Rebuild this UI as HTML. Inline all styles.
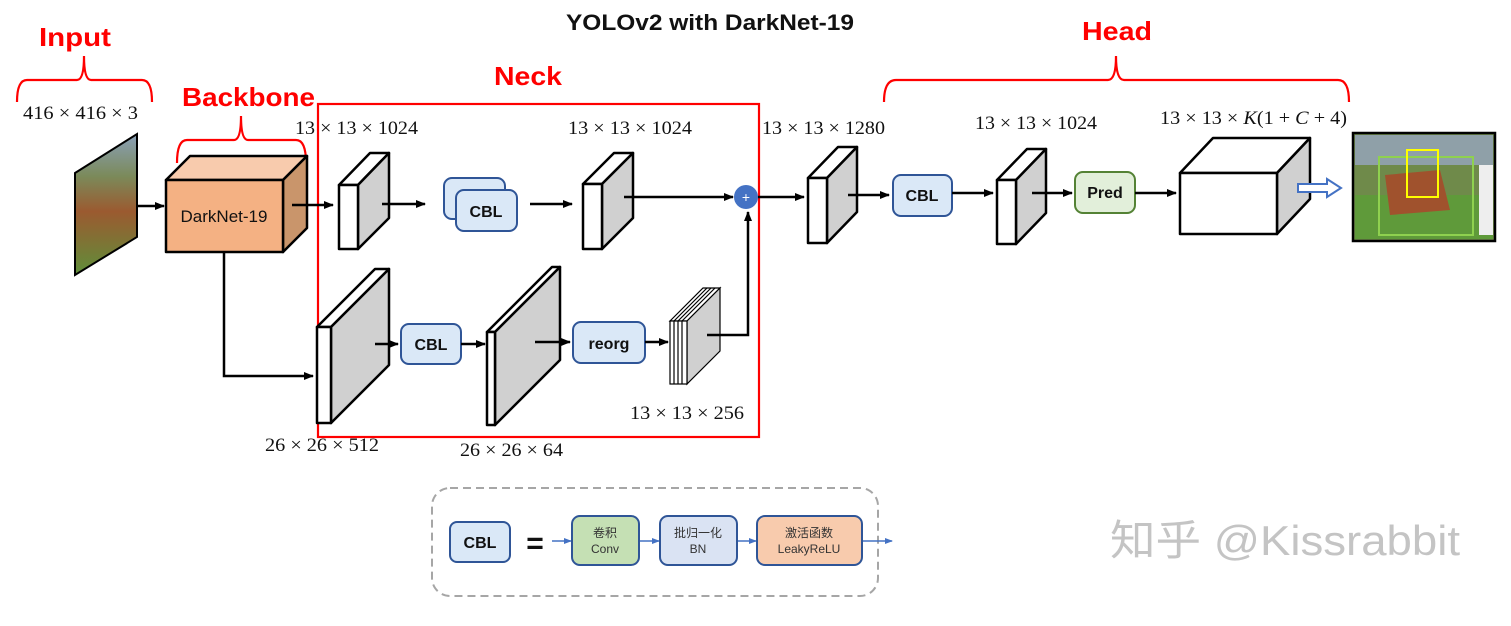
<!DOCTYPE html>
<html><head><meta charset="utf-8"><style>
html,body{margin:0;padding:0;background:#fff;}
svg{display:block;}
.red{font-family:"Liberation Sans",sans-serif;font-weight:bold;fill:#ff0000;font-size:26px;}
.dim{font-family:"Liberation Serif",serif;font-size:19px;fill:#111;}
.bx{font-family:"Liberation Sans",sans-serif;font-weight:bold;font-size:16px;fill:#111;}
</style></head><body>
<svg width="1511" height="626" viewBox="0 0 1511 626" xmlns="http://www.w3.org/2000/svg">
<defs>
<marker id="ah" markerWidth="10" markerHeight="10" refX="9" refY="5" orient="auto" markerUnits="userSpaceOnUse"><path d="M0,1 L10,5 L0,9 z" fill="#000"/></marker>
<marker id="bh" markerWidth="8" markerHeight="8" refX="7" refY="4" orient="auto" markerUnits="userSpaceOnUse"><path d="M0,1 L8,4 L0,7 z" fill="#4472c4"/></marker>
<linearGradient id="img" x1="0" y1="0" x2="0" y2="1"><stop offset="0" stop-color="#8aa0b8"/><stop offset="0.3" stop-color="#7b8a5a"/><stop offset="0.55" stop-color="#9b5a30"/><stop offset="1" stop-color="#5f8f3a"/></linearGradient>
</defs>

<text x="710" y="30" text-anchor="middle" font-family="Liberation Sans,sans-serif" font-weight="bold" font-size="22" fill="#111" textLength="288" lengthAdjust="spacingAndGlyphs">YOLOv2 with DarkNet-19</text>

<text class="red" x="39" y="46" textLength="72" lengthAdjust="spacingAndGlyphs">Input</text>
<text class="red" x="182" y="106" textLength="133" lengthAdjust="spacingAndGlyphs">Backbone</text>
<text class="red" x="494" y="85" textLength="68" lengthAdjust="spacingAndGlyphs">Neck</text>
<text class="red" x="1082" y="40" textLength="70" lengthAdjust="spacingAndGlyphs">Head</text>

<g fill="none" stroke="#ff0000" stroke-width="2.2">
<path d="M17,102 Q17,80 27,80 L77,80 Q84,80 84,56 Q84,80 91,80 L142,80 Q152,80 152,102"/>
<path d="M177,163 Q177,140 187,140 L234,140 Q241,140 241,116 Q241,140 248,140 L296,140 Q306,140 306,163"/>
<path d="M884,102 Q884,80 896,80 L1108,80 Q1116,80 1116,56 Q1116,80 1124,80 L1338,80 Q1349,80 1349,102"/>
<rect x="318" y="104" width="441" height="333"/>
</g>

<text class="dim" x="23" y="119" textLength="115" lengthAdjust="spacingAndGlyphs">416 × 416 × 3</text>
<text class="dim" x="295" y="134" textLength="123" lengthAdjust="spacingAndGlyphs">13 × 13 × 1024</text>
<text class="dim" x="568" y="134" textLength="124" lengthAdjust="spacingAndGlyphs">13 × 13 × 1024</text>
<text class="dim" x="762" y="134" textLength="123" lengthAdjust="spacingAndGlyphs">13 × 13 × 1280</text>
<text class="dim" x="975" y="129" textLength="122" lengthAdjust="spacingAndGlyphs">13 × 13 × 1024</text>
<text class="dim" x="1160" y="124" textLength="187" lengthAdjust="spacingAndGlyphs">13 × 13 × <tspan font-style="italic">K</tspan>(1 + <tspan font-style="italic">C</tspan> + 4)</text>
<text class="dim" x="265" y="451" textLength="114" lengthAdjust="spacingAndGlyphs">26 × 26 × 512</text>
<text class="dim" x="460" y="456" textLength="103" lengthAdjust="spacingAndGlyphs">26 × 26 × 64</text>
<text class="dim" x="630" y="419" textLength="114" lengthAdjust="spacingAndGlyphs">13 × 13 × 256</text>

<polygon points="75,173 137,134 137,237 75,275" fill="url(#img)" stroke="#000" stroke-width="2"/>
<line x1="137" y1="206" x2="164" y2="206" stroke="#000" stroke-width="2.5" marker-end="url(#ah)"/>

<g stroke="#000" stroke-width="2.5" stroke-linejoin="round">
<polygon points="166,180 190,156 307,156 283,180" fill="#f8cbad"/>
<polygon points="283,180 307,156 307,228 283,252" fill="#c9956b"/>
<rect x="166" y="180" width="117" height="72" fill="#f4b183"/>
</g>
<text x="224" y="222" text-anchor="middle" font-family="Liberation Sans,sans-serif" font-size="17" fill="#111">DarkNet-19</text>
<line x1="292" y1="205" x2="333" y2="205" stroke="#000" stroke-width="2.5" marker-end="url(#ah)"/>
<polyline points="224,252 224,376 313,376" fill="none" stroke="#000" stroke-width="2.5" marker-end="url(#ah)"/>

<g stroke="#000" stroke-width="2.5" stroke-linejoin="round">
<polygon points="339,185 370,153 389,153 358,185" fill="#fff"/><polygon points="358,185 389,153 389,218 358,249" fill="#d0d0d0"/><rect x="339" y="185" width="19" height="64" fill="#fff"/>
<polygon points="583,184 614,153 633,153 602,184" fill="#fff"/><polygon points="602,184 633,153 633,218 602,249" fill="#d0d0d0"/><rect x="583" y="184" width="19" height="65" fill="#fff"/>
<polygon points="808,178 838,147 857,147 827,178" fill="#fff"/><polygon points="827,178 857,147 857,212 827,243" fill="#d0d0d0"/><rect x="808" y="178" width="19" height="65" fill="#fff"/>
<polygon points="997,180 1027,149 1046,149 1016,180" fill="#fff"/><polygon points="1016,180 1046,149 1046,213 1016,244" fill="#d0d0d0"/><rect x="997" y="180" width="19" height="64" fill="#fff"/>
<polygon points="317,327 375,269 389,269 331,327" fill="#fff"/><polygon points="331,327 389,269 389,365 331,423" fill="#d0d0d0"/><rect x="317" y="327" width="14" height="96" fill="#fff"/>
<polygon points="487,332 552,267 560,267 495,332" fill="#fff"/><polygon points="495,332 560,267 560,360 495,425" fill="#d0d0d0"/><rect x="487" y="332" width="8" height="93" fill="#fff"/>
<polygon points="1180,173 1213,138 1310,138 1277,173" fill="#fff"/><polygon points="1277,173 1310,138 1310,199 1277,234" fill="#d0d0d0"/><rect x="1180" y="173" width="97" height="61" fill="#fff"/>
</g>
<g stroke="#000" stroke-width="1.2">
<polygon points="670,321 703,288 720,288 687,321" fill="#fff"/>
<line x1="674" y1="321" x2="707" y2="288"/><line x1="678" y1="321" x2="711" y2="288"/><line x1="682" y1="321" x2="715" y2="288"/>
<polygon points="687,321 720,288 720,351 687,384" fill="#d0d0d0"/>
<rect x="670" y="321" width="17" height="63" fill="#fff"/>
<line x1="674" y1="321" x2="674" y2="384"/><line x1="678" y1="321" x2="678" y2="384"/><line x1="682" y1="321" x2="682" y2="384"/>
</g>

<g stroke="#2f5597" stroke-width="2">
<rect x="444" y="178" width="61" height="41" rx="8" fill="#dae8f7"/>
<rect x="456" y="190" width="61" height="41" rx="8" fill="#dae8f7"/>
<rect x="893" y="175" width="59" height="41" rx="8" fill="#dae8f7"/>
<rect x="401" y="324" width="60" height="40" rx="8" fill="#dae8f7"/>
<rect x="573" y="322" width="72" height="41" rx="8" fill="#dae8f7"/>
</g>
<rect x="1075" y="172" width="60" height="41" rx="8" fill="#e2efda" stroke="#548235" stroke-width="2"/>
<text class="bx" x="486" y="217" text-anchor="middle">CBL</text>
<text class="bx" x="922" y="201" text-anchor="middle">CBL</text>
<text class="bx" x="431" y="350" text-anchor="middle">CBL</text>
<text class="bx" x="609" y="349" text-anchor="middle">reorg</text>
<text class="bx" x="1105" y="198" text-anchor="middle">Pred</text>

<g stroke="#000" stroke-width="2.5" fill="none">
<line x1="382" y1="204" x2="425" y2="204" marker-end="url(#ah)"/>
<line x1="530" y1="204" x2="572" y2="204" marker-end="url(#ah)"/>
<line x1="624" y1="197" x2="733" y2="197" marker-end="url(#ah)"/>
<line x1="758" y1="197" x2="804" y2="197" marker-end="url(#ah)"/>
<line x1="848" y1="195" x2="889" y2="195" marker-end="url(#ah)"/>
<line x1="952" y1="193" x2="993" y2="193" marker-end="url(#ah)"/>
<line x1="1032" y1="193" x2="1072" y2="193" marker-end="url(#ah)"/>
<line x1="1135" y1="193" x2="1176" y2="193" marker-end="url(#ah)"/>
<line x1="375" y1="344" x2="398" y2="344" marker-end="url(#ah)"/>
<line x1="461" y1="344" x2="485" y2="344" marker-end="url(#ah)"/>
<line x1="535" y1="342" x2="570" y2="342" marker-end="url(#ah)"/>
<line x1="645" y1="342" x2="668" y2="342" marker-end="url(#ah)"/>
<polyline points="707,335 748,335 748,212" marker-end="url(#ah)"/>
</g>
<circle cx="746" cy="197" r="12" fill="#4472c4"/>
<text x="746" y="202" text-anchor="middle" font-family="Liberation Sans,sans-serif" font-size="14" fill="#fff">+</text>

<path d="M1298,184 L1327,184 L1327,179 L1341,188 L1327,197 L1327,192 L1298,192 z" fill="#fff" stroke="#4472c4" stroke-width="2"/>

<rect x="1353" y="133" width="142" height="108" fill="#6f8a4a" stroke="#000" stroke-width="2.5"/>
<rect x="1355" y="135" width="138" height="30" fill="#8fa0a8"/>
<rect x="1355" y="195" width="138" height="44" fill="#5f9a3a"/>
<path d="M1385,175 L1440,170 L1450,210 L1390,215 z" fill="#a0522d"/>
<rect x="1479" y="165" width="14" height="70" fill="#eee"/>
<rect x="1379" y="157" width="94" height="78" fill="none" stroke="#8fd14f" stroke-width="2"/>
<rect x="1407" y="150" width="31" height="47" fill="none" stroke="#ffff00" stroke-width="2"/>

<rect x="432" y="488" width="446" height="108" rx="18" fill="none" stroke="#a6a6a6" stroke-width="2" stroke-dasharray="8,5"/>
<rect x="450" y="522" width="60" height="40" rx="7" fill="#dae8f7" stroke="#2f5597" stroke-width="2"/>
<text class="bx" x="480" y="548" text-anchor="middle">CBL</text>
<text x="535" y="553" text-anchor="middle" font-family="Liberation Sans,sans-serif" font-weight="bold" font-size="30" fill="#111">=</text>
<g stroke="#4472c4" stroke-width="1.5">
<line x1="552" y1="541" x2="571" y2="541" marker-end="url(#bh)"/>
<line x1="639" y1="541" x2="659" y2="541" marker-end="url(#bh)"/>
<line x1="737" y1="541" x2="756" y2="541" marker-end="url(#bh)"/>
<line x1="862" y1="541" x2="892" y2="541" marker-end="url(#bh)"/>
</g>
<rect x="572" y="516" width="67" height="49" rx="8" fill="#c5e0b4" stroke="#2f5597" stroke-width="2"/>
<rect x="660" y="516" width="77" height="49" rx="8" fill="#dae3f3" stroke="#2f5597" stroke-width="2"/>
<rect x="757" y="516" width="105" height="49" rx="8" fill="#f8cbad" stroke="#2f5597" stroke-width="2"/>
<g font-family="Liberation Sans,'Noto Sans CJK SC',sans-serif" font-size="12" fill="#333" text-anchor="middle">
<text x="605" y="537">卷积</text><text x="605" y="553">Conv</text>
<text x="698" y="537">批归一化</text><text x="698" y="553">BN</text>
<text x="809" y="537">激活函数</text><text x="809" y="553">LeakyReLU</text>
</g>

<text x="1110" y="555" font-family="Liberation Sans,'Noto Sans CJK SC',sans-serif" font-size="42" fill="#c4c4c4" textLength="350" lengthAdjust="spacingAndGlyphs">知乎 @Kissrabbit</text>
</svg>
</body></html>
